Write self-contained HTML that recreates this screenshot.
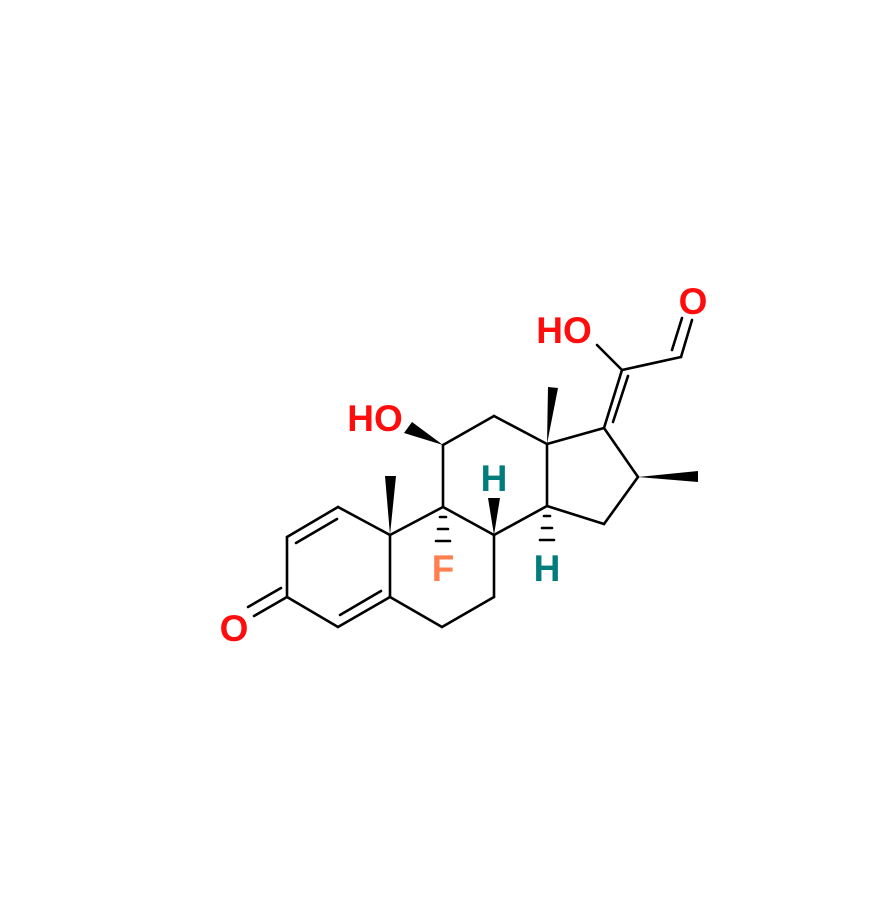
<!DOCTYPE html>
<html><head><style>body{margin:0;background:#fff}svg{display:block}</style></head><body>
<svg width="882" height="920" viewBox="0 0 882 920" xmlns="http://www.w3.org/2000/svg">
<g stroke="#000" stroke-width="2.6" fill="none" stroke-linecap="round">
<line x1="338" y1="507" x2="287" y2="537"/>
<line x1="337" y1="519" x2="296" y2="543"/>
<line x1="287" y1="537" x2="287" y2="597"/>
<line x1="287" y1="597" x2="338" y2="627"/>
<line x1="338" y1="627" x2="390" y2="597"/>
<line x1="340" y1="615" x2="381" y2="591"/>
<line x1="390" y1="597" x2="390" y2="535"/>
<line x1="390" y1="535" x2="338" y2="507"/>
<line x1="287" y1="597" x2="254" y2="616"/>
<line x1="281" y1="588" x2="248" y2="607"/>
<line x1="390" y1="597" x2="442" y2="627"/>
<line x1="442" y1="627" x2="494" y2="597"/>
<line x1="494" y1="597" x2="494" y2="535"/>
<line x1="494" y1="535" x2="443" y2="507"/>
<line x1="443" y1="507" x2="390" y2="535"/>
<line x1="443" y1="507" x2="443" y2="445"/>
<line x1="443" y1="445" x2="494" y2="416"/>
<line x1="494" y1="416" x2="547" y2="444"/>
<line x1="547" y1="444" x2="547" y2="506"/>
<line x1="547" y1="506" x2="494" y2="535"/>
<line x1="547" y1="444" x2="604" y2="428"/>
<line x1="604" y1="428" x2="638" y2="477"/>
<line x1="638" y1="477" x2="604" y2="524"/>
<line x1="604" y1="524" x2="547" y2="506"/>
<line x1="604" y1="428" x2="622" y2="370"/>
<line x1="613" y1="422" x2="628" y2="376"/>
<line x1="622" y1="370" x2="597" y2="345"/>
<line x1="622" y1="370" x2="681" y2="357"/>
<line x1="681" y1="357" x2="692" y2="320"/>
<line x1="672" y1="350" x2="682" y2="318"/>
<line x1="440" y1="517" x2="446" y2="517"/>
<line x1="438" y1="529" x2="448" y2="529"/>
<line x1="436" y1="541" x2="450" y2="541"/>
<line x1="544" y1="516" x2="550" y2="516"/>
<line x1="542" y1="528" x2="552" y2="528"/>
<line x1="540" y1="540" x2="554" y2="540"/>
</g>
<g fill="#000">
<polygon points="390,535 385,476 396,476"/>
<polygon points="547,444 548,387 558,388"/>
<polygon points="638,477 698,471 698,482"/>
<polygon points="443,445 404,433 412,422"/>
<polygon points="494,535 488,498 500,498"/>
</g>
<g font-family="'Liberation Sans', Arial, sans-serif" font-weight="bold" font-size="37" text-anchor="middle">
<text x="234" y="641" fill="#FF0D0D">O</text>
<text x="375" y="431" fill="#FF0D0D">HO</text>
<text x="564" y="343" fill="#FF0D0D">HO</text>
<text x="693" y="314" fill="#FF0D0D">O</text>
<text x="494" y="491" fill="#007C7C">H</text>
<text x="547" y="581" fill="#007C7C">H</text>
<text x="443" y="581" fill="#FF7F50">F</text>
</g>
</svg>
</body></html>
